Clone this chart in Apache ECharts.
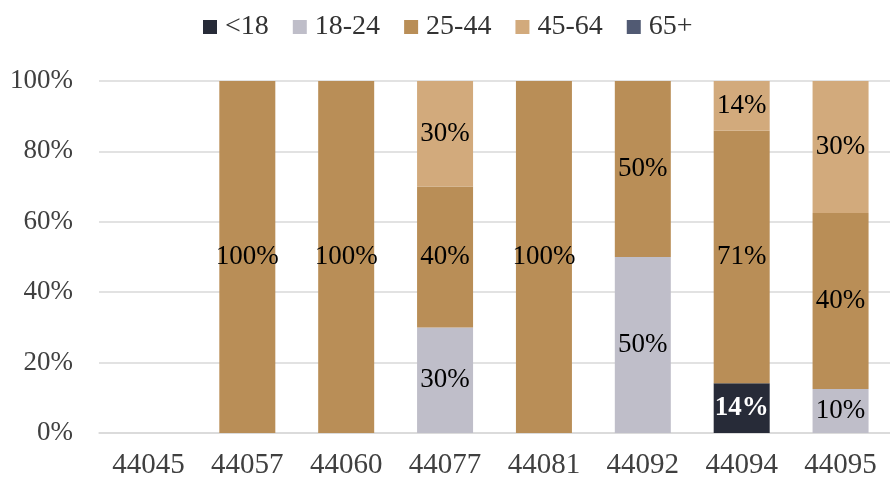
<!DOCTYPE html>
<html><head><meta charset="utf-8">
<script src="https://cdn.jsdelivr.net/npm/echarts@6/dist/echarts.min.js"></script>
<style>html,body{margin:0;padding:0;background:#fff}#c{width:890px;height:480px}</style>
</head><body><div id="c"></div>
<script>
var categories = ['44045','44057','44060','44077','44081','44092','44094','44095'];
var seriesNames = ['<18','18-24','25-44','45-64','65+'];
var under18 = [0,0,0,0,0,0,14,0];
var age18to24 = [0,0,0,30,0,50,0,10];
var age25to44 = [0,100,100,40,100,50,71,40];
var age45to64 = [0,0,0,30,0,0,14,30];
var age65plus = [0,0,0,0,0,0,0,0];
var yTicks = ['0%','20%','40%','60%','80%','100%'];
var colors = ['#272b38','#bfbec9','#b98e57','#d2aa7c','#515a73'];

var raw = [under18, age18to24, age25to44, age45to64, age65plus];
var totals = categories.map(function(_, i){ var s=0; raw.forEach(function(r){ s+=r[i]; }); return s; });
var font = "'Liberation Serif', serif";

var series = raw.map(function(arr, si){
  return {
    name: seriesNames[si], type: 'bar', stack: 'total', barWidth: 56,
    itemStyle: { color: colors[si] },
    data: arr.map(function(v, i){
      var share = totals[i] ? v / totals[i] * 100 : 0;
      var dark = si === 0;
      return {
        value: share,
        label: {
          show: v > 0, position: 'inside',
          formatter: v + '%',
          color: dark ? '#ffffff' : '#000000',
          fontWeight: dark ? 'bold' : 'normal',
          fontSize: 27, fontFamily: font
        }
      };
    })
  };
});

var chart = echarts.init(document.getElementById('c'));
chart.setOption({
  animation: false,
  color: colors,
  legend: {
    top: 8, left: 198, icon: 'rect', itemWidth: 14, itemHeight: 14, itemGap: 24,
    textStyle: { fontSize: 28, fontFamily: font, color: '#333333', padding: [0, 0, 0, 3] },
    data: seriesNames
  },
  grid: { left: 99, right: -13, top: 81, bottom: 47, containLabel: false },
  xAxis: {
    type: 'category', data: categories,
    axisLine: { lineStyle: { color: '#d9d9d9', width: 1.5 } },
    axisTick: { show: false },
    axisLabel: { fontSize: 29, fontFamily: font, color: '#404040', margin: 18 }
  },
  yAxis: {
    type: 'value', min: 0, max: 100, interval: 20,
    axisLabel: { fontSize: 27, fontFamily: font, color: '#404040', margin: 26,
      formatter: function(v){ return yTicks[Math.round(v/20)]; } },
    splitLine: { lineStyle: { color: '#d9d9d9', width: 1.5 } },
    axisLine: { show: false }, axisTick: { show: false }
  },
  series: series
});
</script></body></html>
